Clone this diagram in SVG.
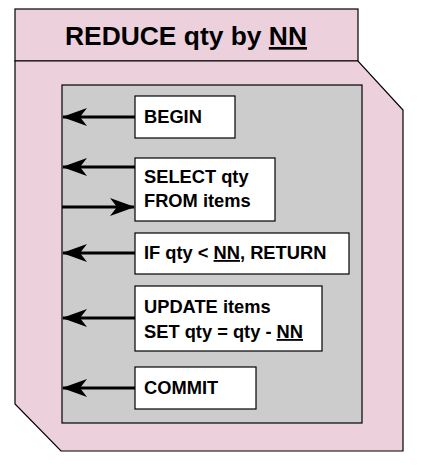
<svg xmlns="http://www.w3.org/2000/svg" width="423" height="467" viewBox="0 0 423 467">
<style>
.frame{fill:#ecd0dc;stroke:#000;stroke-width:1.2}
.panel{fill:#cccccc;stroke:#000;stroke-width:1.2}
.box{fill:#fff;stroke:#000;stroke-width:1.2}
.t{font-family:"Liberation Sans",Arial,sans-serif;font-weight:bold;font-size:18.3px;fill:#000}
.title{font-family:"Liberation Sans",Arial,sans-serif;font-weight:bold;font-size:26.4px;fill:#000}
.u{text-decoration:underline}
.c{stroke:#000;stroke-width:3;fill:none}
</style>
<defs>
<marker id="ah" viewBox="0 0 25 18" refX="24" refY="9" markerWidth="25" markerHeight="18" markerUnits="userSpaceOnUse" orient="auto">
<path d="M0,0 L25,9 L0,18 L7,9 Z" fill="#000"/>
</marker>
</defs>
<g id="frame">
<rect class="frame" x="15" y="9" width="343" height="52"/>
<text class="title" x="186" y="45" text-anchor="middle">REDUCE qty by <tspan class="u">NN</tspan></text>
<path class="frame" d="M15,61 L358,61 L403,110 L403,451 L61,451 L15,404 Z"/>
</g>
<g id="panel">
<rect class="panel" x="62" y="85" width="300" height="338"/>
</g>
<g id="begin">
<rect class="box" x="135" y="96" width="100" height="42"/>
<text class="t" x="144" y="123">BEGIN</text>
</g>
<g id="select">
<rect class="box" x="135" y="158" width="140" height="63"/>
<text class="t" x="144" y="183">SELECT qty</text>
<text class="t" x="144" y="207">FROM items</text>
</g>
<g id="if">
<rect class="box" x="135" y="233" width="214" height="41"/>
<text class="t" x="144" y="259">IF qty &lt; <tspan class="u">NN</tspan>, RETURN</text>
</g>
<g id="update">
<rect class="box" x="135" y="286" width="187" height="65"/>
<text class="t" x="144" y="313">UPDATE items</text>
<text class="t" x="144" y="338">SET qty = qty - <tspan class="u">NN</tspan></text>
</g>
<g id="commit">
<rect class="box" x="135" y="367" width="121" height="42"/>
<text class="t" x="144" y="394">COMMIT</text>
</g>
<g id="connectors">
<line class="c" x1="135" y1="117" x2="63" y2="117" marker-end="url(#ah)"/>
<line class="c" x1="135" y1="167" x2="63" y2="167" marker-end="url(#ah)"/>
<line class="c" x1="62" y1="207" x2="134" y2="207" marker-end="url(#ah)"/>
<line class="c" x1="135" y1="253" x2="63" y2="253" marker-end="url(#ah)"/>
<line class="c" x1="135" y1="318" x2="63" y2="318" marker-end="url(#ah)"/>
<line class="c" x1="135" y1="388" x2="63" y2="388" marker-end="url(#ah)"/>
</g>
</svg>
